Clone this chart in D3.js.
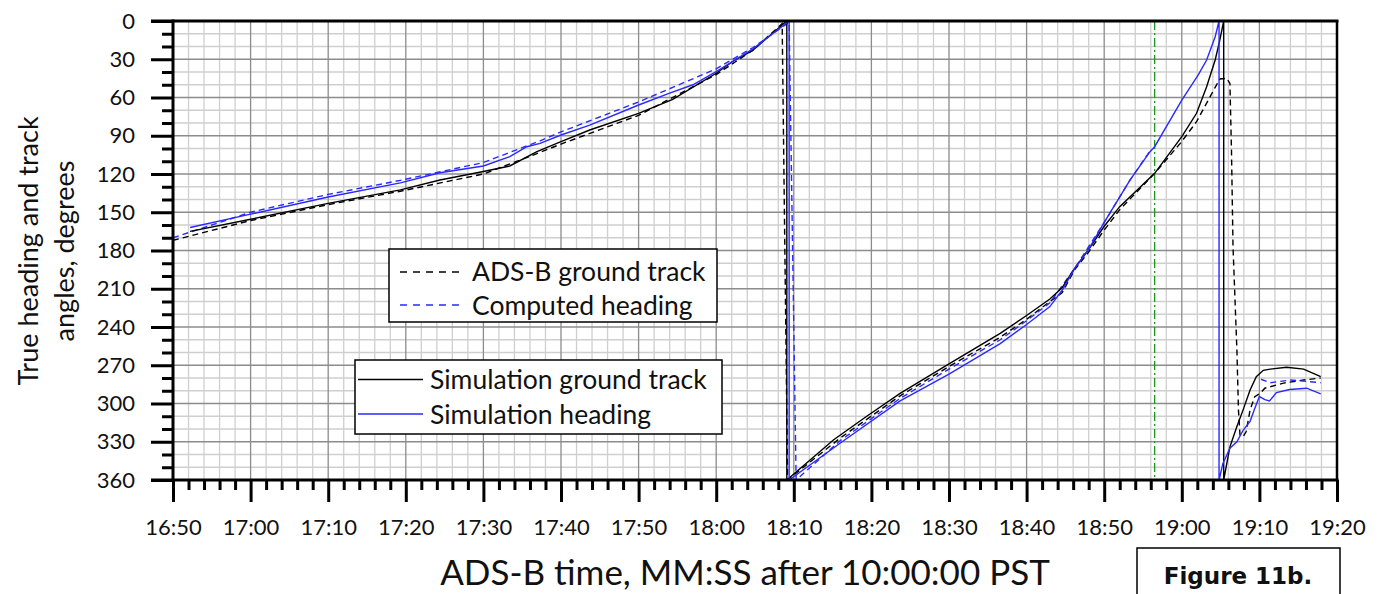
<!DOCTYPE html>
<html>
<head>
<meta charset="utf-8">
<script src="https://cdn.jsdelivr.net/npm/d3@7"></script>
<style>
  html, body { margin: 0; padding: 0; background: #fff; }
  svg { display: block; font-family: Lato, "Open Sans", sans-serif; }
</style>
</head>
<body>
<div id="chart"></div>
<script>
// time is in seconds (MM*60+SS after 10:00:00 PST), angles in degrees

const xTickValues = d3.range(1010, 1161, 10);   // 16:50 .. 19:20
const yTickValues = d3.range(0, 361, 30);

// ADS-B ground track (black dashed)
const adsbTrack = [
  [1010, 172], [1020, 156.5], [1030, 144], [1039.3, 133.5], [1050, 120],
  [1056.9, 104], [1060, 96.5], [1070, 74], [1080, 42], [1084.7, 23],
  [1088.5, 2], [1089.2, 360],
  [1096, 327], [1103.7, 294], [1110, 271], [1116.6, 248], [1120, 234],
  [1123, 220], [1124.6, 213], [1126.2, 195], [1127.9, 182], [1130, 164],
  [1132, 148], [1136.5, 119.5], [1139.8, 96], [1141.9, 79], [1144.3, 52],
  [1144.9, 45.5], [1145.8, 45], [1146.2, 49], [1146.4, 101], [1146.6, 177],
  [1147.1, 258], [1147.3, 305], [1147.5, 324.7], [1147.9, 326], [1148.3, 322],
  [1148.8, 305], [1149.4, 294.6], [1150.1, 292], [1150.7, 288], [1153.1, 284],
  [1155.7, 281.6], [1157.9, 280]
];

// Computed heading (blue dashed)
const computedHeading = [
  [1010, 170], [1020, 150], [1030, 136], [1039.3, 125], [1050, 111],
  [1057.3, 94], [1060, 87], [1070, 63.5], [1080, 37.5], [1084.7, 21],
  [1089.4, 1], [1090.3, 360],
  [1096, 329], [1103.7, 296], [1110, 273], [1116.6, 250], [1120, 235],
  [1123, 221], [1126.2, 194], [1130, 158], [1133.3, 125], [1136, 101],
  null,
  [1150.2, 281], [1151.4, 283.7], [1154, 281.6], [1157.9, 283.7]
];

// Simulation ground track (black solid)
const simTrack = [
  [1012.2, 165], [1020, 155.5], [1030, 143], [1039.3, 132.5], [1044.4, 124.7],
  [1050, 118], [1053.4, 113.7], [1056.9, 102.5], [1060, 94.6], [1063.7, 85.5],
  [1070, 72.4], [1074.4, 61.4], [1080, 41], [1082.4, 30.6], [1084.7, 23],
  [1089.1, 0], [1089.1, 360],
  [1095.1, 328.6], [1099.4, 310], [1103.7, 292], [1110, 269], [1116.6, 245],
  [1120, 231], [1123, 218], [1124.6, 209], [1126.2, 194], [1127.9, 180],
  [1130, 161], [1132, 145.6], [1136.5, 119.5], [1140, 90.7], [1141.9, 72.4],
  [1143.2, 51.5], [1144.3, 30.6], [1144.9, 15], [1145.4, 0], [1145.4, 360],
  [1146.2, 334], [1147.1, 318], [1147.9, 305], [1148.8, 289.4], [1149.6, 279],
  [1150.5, 274], [1151.4, 273], [1153.5, 271.6], [1155.7, 273], [1157.9, 279]
];

// Simulation heading (blue solid)
const simHeading = [
  [1012.2, 162], [1020, 151.5], [1030, 138], [1039.3, 127], [1044.4, 119],
  [1050, 113.7], [1053.4, 106.4], [1055.6, 98.6], [1057.3, 96], [1060, 89.4],
  [1063.7, 81.6], [1070, 65.9], [1074, 56.6], [1077, 50], [1080, 39.7],
  [1082.4, 30.6], [1084.7, 22], [1089.4, 0], [1089.4, 360],
  [1096, 331], [1103.7, 298], [1110, 277], [1116.6, 253], [1120, 238],
  [1123, 224], [1124.6, 211], [1126.2, 194], [1127.9, 180], [1130, 158],
  [1133.3, 125], [1135.9, 102.5], [1136.5, 98.6], [1140, 62], [1142.1, 42.4],
  [1143.2, 30.6], [1144.3, 12.3], [1144.8, 0], [1144.8, 360],
  [1145.3, 347], [1146.2, 335], [1147.1, 330], [1147.9, 321], [1148.8, 314],
  [1149.4, 304], [1150, 294.6], [1150.7, 297], [1151.3, 298], [1152.2, 291.5],
  [1153.9, 289], [1156.1, 288], [1157.9, 292.5]
];

// green dash-dot marker
const markerTime = 1136.5;

const series = [
  { name: 'ADS-B ground track', data: adsbTrack, color: '#000', dash: '6,4' },
  { name: 'Computed heading', data: computedHeading, color: '#2a2aff', dash: '6,4' },
  { name: 'Simulation ground track', data: simTrack, color: '#000', dash: null },
  { name: 'Simulation heading', data: simHeading, color: '#2a2aff', dash: null }
];

const width = 1378, height = 594;
const margin = { left: 173, right: 41, top: 21, bottom: 114 };

const svg = d3.select('#chart').append('svg')
  .attr('width', width)
  .attr('height', height);

const x = d3.scaleLinear().domain([1010, 1160]).range([margin.left, width - margin.right]);
const y = d3.scaleLinear().domain([0, 360]).range([margin.top, height - margin.bottom]);

const fmtTime = t => `${Math.floor(t / 60)}:${String(t % 60).padStart(2, '0')}`;

// 网格 (grid)
const grid = svg.append('g').attr('class', 'grid');
const minorX = d3.range(1010, 1161, 2).filter(t => t % 10 !== 0);
const minorY = d3.range(0, 361, 10).filter(d => d % 30 !== 0);

grid.selectAll('.vminor').data(minorX).enter().append('line')
  .attr('x1', d => x(d)).attr('x2', d => x(d))
  .attr('y1', y(0)).attr('y2', y(360))
  .attr('stroke', '#cfcfcf').attr('stroke-width', 1.3);
grid.selectAll('.hminor').data(minorY).enter().append('line')
  .attr('x1', x(1010)).attr('x2', x(1160))
  .attr('y1', d => y(d)).attr('y2', d => y(d))
  .attr('stroke', '#cfcfcf').attr('stroke-width', 1.3);
grid.selectAll('.vmajor').data(xTickValues).enter().append('line')
  .attr('x1', d => x(d)).attr('x2', d => x(d))
  .attr('y1', y(0)).attr('y2', y(360))
  .attr('stroke', '#8c8c8c').attr('stroke-width', 1.3);
grid.selectAll('.hmajor').data(yTickValues).enter().append('line')
  .attr('x1', x(1010)).attr('x2', x(1160))
  .attr('y1', d => y(d)).attr('y2', d => y(d))
  .attr('stroke', '#8c8c8c').attr('stroke-width', 1.3);

// clip for the curves
svg.append('clipPath').attr('id', 'plot-clip')
  .append('rect')
  .attr('x', x(1010)).attr('y', y(0) - 1)
  .attr('width', x(1160) - x(1010)).attr('height', y(360) - y(0) + 2);

const plot = svg.append('g').attr('clip-path', 'url(#plot-clip)');

plot.append('line')
  .attr('x1', x(markerTime)).attr('x2', x(markerTime))
  .attr('y1', y(0)).attr('y2', y(360))
  .attr('stroke', '#1a961a').attr('stroke-width', 1.3)
  .attr('stroke-dasharray', '9,3,2,3');

const line = d3.line()
  .defined(d => d !== null)
  .x(d => x(d[0]))
  .y(d => y(d[1]));

plot.selectAll('.series').data(series).enter().append('path')
  .attr('class', 'series')
  .attr('d', d => line(d.data))
  .attr('fill', 'none')
  .attr('stroke', d => d.color)
  .attr('stroke-width', 1.4)
  .attr('stroke-dasharray', d => d.dash);

// 坐标轴 (axes)
const axisFont = 22;

svg.append('g')
  .attr('transform', `translate(${x(1010)},0)`)
  .call(d3.axisLeft(y).tickValues(yTickValues).tickSize(22).tickPadding(16).tickFormat(d3.format('d')));
svg.append('g')
  .attr('transform', `translate(${x(1010)},0)`)
  .call(d3.axisLeft(y).tickValues(minorY).tickSize(11).tickFormat(''));

svg.append('g')
  .attr('transform', `translate(0,${y(360)})`)
  .call(d3.axisBottom(x).tickValues(xTickValues).tickSize(22).tickPadding(17).tickFormat(fmtTime));
svg.append('g')
  .attr('transform', `translate(0,${y(360)})`)
  .call(d3.axisBottom(x).tickValues(minorX).tickSize(10).tickFormat(''));

svg.selectAll('.tick line').attr('stroke', '#000').attr('stroke-width', 3);
svg.selectAll('.domain').remove();
svg.selectAll('.tick text')
  .attr('font-family', 'Lato, sans-serif')
  .attr('font-size', axisFont)
  .attr('fill', '#111');

// frame
svg.append('line').attr('x1', x(1010)).attr('x2', x(1010)).attr('y1', y(0) - 1.5).attr('y2', y(360) + 1.5)
  .attr('stroke', '#000').attr('stroke-width', 3);
svg.append('line').attr('x1', x(1010) - 22).attr('x2', x(1160) + 1.5).attr('y1', y(360)).attr('y2', y(360))
  .attr('stroke', '#000').attr('stroke-width', 3);
svg.append('line').attr('x1', x(1010) - 22).attr('x2', x(1160) + 1.5).attr('y1', y(0)).attr('y2', y(0))
  .attr('stroke', '#000').attr('stroke-width', 3);
svg.append('line').attr('x1', x(1160)).attr('x2', x(1160)).attr('y1', y(0)).attr('y2', y(360))
  .attr('stroke', '#000').attr('stroke-width', 2.5);

// 图例 (legends)
function legend(box, items) {
  const g = svg.append('g');
  g.append('rect')
    .attr('x', box.x).attr('y', box.y).attr('width', box.w).attr('height', box.h)
    .attr('fill', '#fff').attr('stroke', '#000').attr('stroke-width', 1.5);
  items.forEach((it, i) => {
    const cy = box.lineY[i];
    g.append('line')
      .attr('x1', box.lx1).attr('x2', box.lx2).attr('y1', cy).attr('y2', cy)
      .attr('stroke', it.color).attr('stroke-width', 1.4)
      .attr('stroke-dasharray', it.dash ? '7,6' : null);
    g.append('text')
      .attr('x', box.tx).attr('y', box.textY[i])
      .attr('font-size', 26.5).attr('fill', '#111')
      .text(it.name);
  });
}

legend({ x: 389, y: 249, w: 328, h: 73, lx1: 400, lx2: 462, tx: 472, lineY: [272, 305], textY: [281, 315] },
  [series[0], series[1]]);
legend({ x: 355, y: 360, w: 367, h: 74, lx1: 358, lx2: 423, tx: 430, lineY: [379.5, 414], textY: [389, 424] },
  [series[2], series[3]]);

// 标题 (titles)
svg.append('text')
  .attr('transform', 'translate(38,251) rotate(-90)')
  .attr('text-anchor', 'middle')
  .attr('font-size', 27).attr('fill', '#111')
  .text('True heading and track');
svg.append('text')
  .attr('transform', 'translate(74,251) rotate(-90)')
  .attr('text-anchor', 'middle')
  .attr('font-size', 27).attr('fill', '#111')
  .text('angles, degrees');

svg.append('text')
  .attr('x', 745).attr('y', 585)
  .attr('text-anchor', 'middle')
  .attr('font-size', 35).attr('fill', '#111')
  .text('ADS-B time, MM:SS after 10:00:00 PST');

svg.append('rect')
  .attr('x', 1137).attr('y', 548).attr('width', 203).attr('height', 60)
  .attr('fill', '#fff').attr('stroke', '#000').attr('stroke-width', 1.5);
svg.append('text')
  .attr('x', 1238).attr('y', 584)
  .attr('text-anchor', 'middle')
  .attr('font-family', '"DejaVu Sans", sans-serif')
  .attr('font-size', 23).attr('font-weight', 'bold').attr('fill', '#111')
  .text('Figure 11b.');
</script>
</body>
</html>
